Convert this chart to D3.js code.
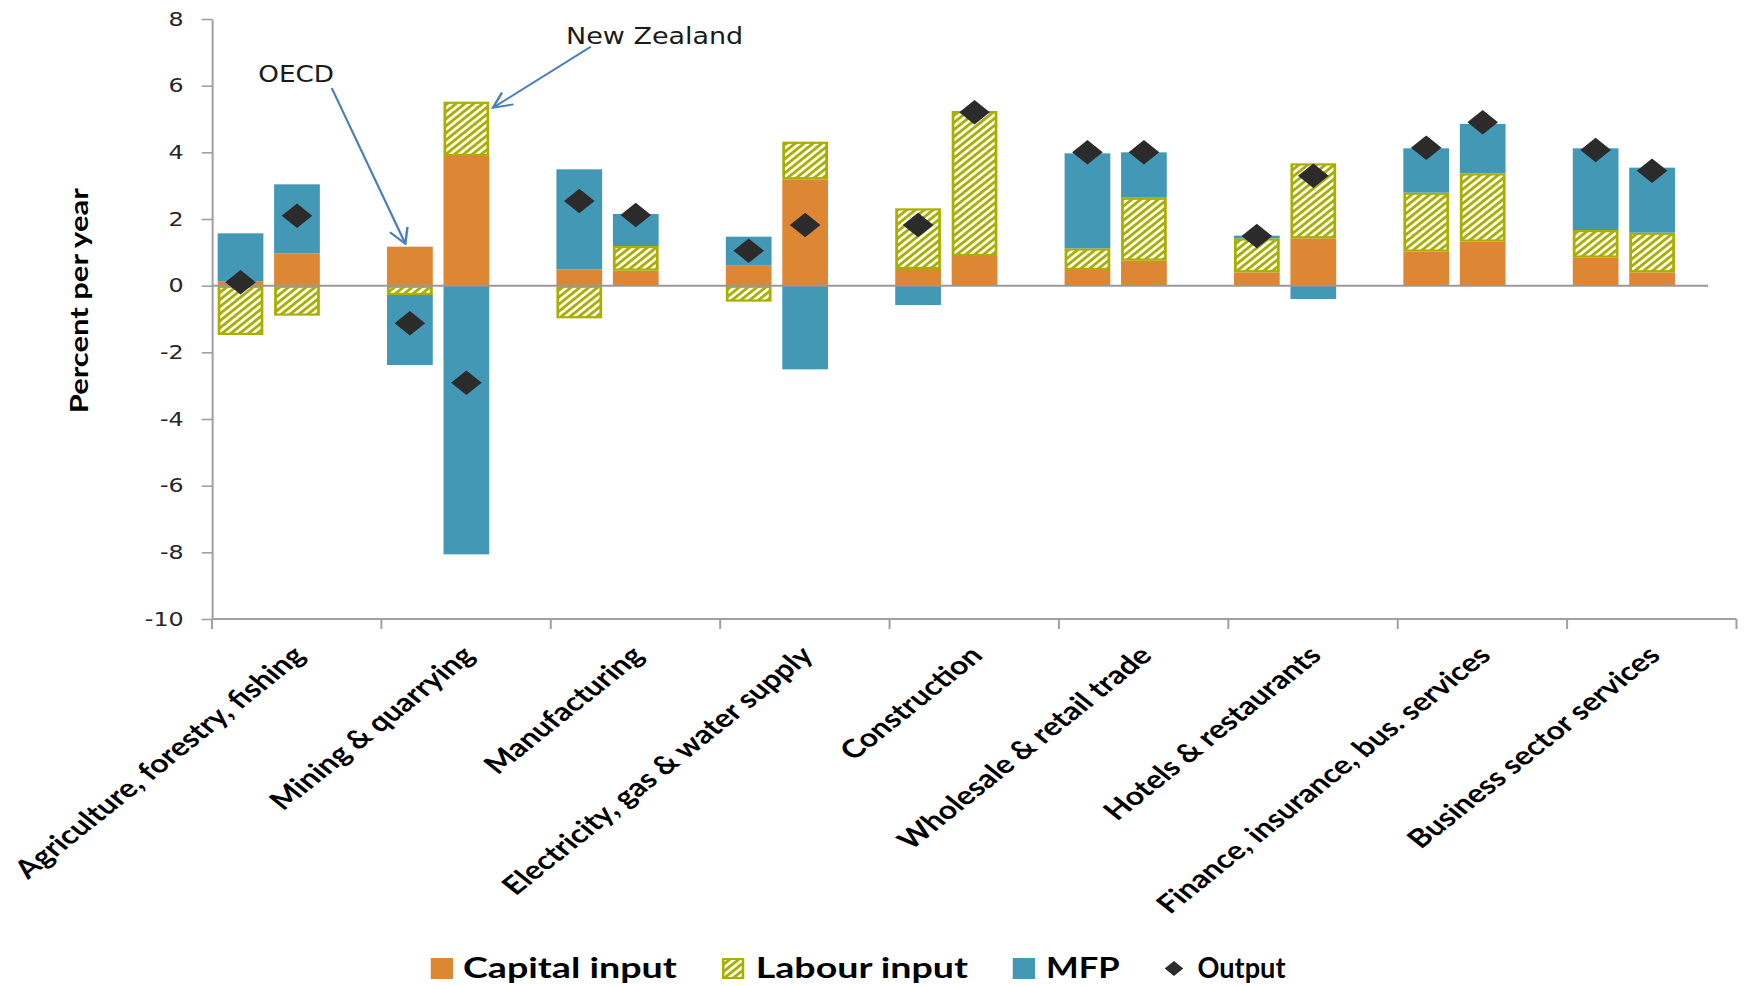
<!DOCTYPE html>
<html>
<head>
<meta charset="utf-8">
<script src="https://cdn.jsdelivr.net/npm/d3@7"></script>
<style>
  body { margin: 0; background: #fff; }
  svg { display: block; }
</style>
</head>
<body>
<svg id="chart" width="1745" height="986"></svg>
<script>
// Sectors on the category axis
const categories = [
  "Agriculture, forestry, fishing",
  "Mining & quarrying",
  "Manufacturing",
  "Electricity, gas & water supply",
  "Construction",
  "Wholesale & retail trade",
  "Hotels & restaurants",
  "Finance, insurance, bus. services",
  "Business sector services"
];
const countries = ["OECD", "New Zealand"];

// Growth contributions, percent per year (OECD bar first, New Zealand second)
const oecdCapital = [0.12, 1.17, 0.49, 0.60, 0.50, 0.47, 0.40, 1.02, 0.84];
const oecdLabour  = [-1.48, -0.28, -0.98, -0.48, 1.82, 0.65, 1.02, 1.77, 0.83];
const oecdMFP     = [1.45, -2.10, 3.00, 0.87, -0.58, 2.85, 0.08, 1.33, 2.45];
const oecdOutput  = [0.10, -1.13, 2.54, 1.05, 1.82, 4.00, 1.49, 4.14, 4.07];

const nzCapital = [0.97, 3.89, 0.45, 3.19, 0.89, 0.75, 1.42, 1.32, 0.40];
const nzLabour  = [-0.90, 1.63, 0.74, 1.13, 4.35, 1.89, 2.25, 2.05, 1.19];
const nzMFP     = [2.07, -8.06, 0.96, -2.51, 0.00, 1.36, -0.40, 1.48, 1.95];
const nzOutput  = [2.10, -2.91, 2.12, 1.82, 5.20, 4.00, 3.30, 4.90, 3.45];

const yTicks = [-10, -8, -6, -4, -2, 0, 2, 4, 6, 8];
const stackKeys = ["Capital input", "Labour input", "MFP"];
const legendLabels = ["Capital input", "Labour input", "MFP", "Output"];

// ---- layout ----
const SX = 1.25;                 // horizontal stretch of the drawing
const plotLeft = 212 / SX, plotRight = 1736.5 / SX;
const plotTop = 19, plotBottom = 619;
const zeroLineEnd = 1708 / SX;

const colors = {
  capital: "#DD8735",
  labour: "#A9AF00",
  mfp: "#4398B6",
  output: "#2B2B2B",
  axis: "#A0A0A0",
  arrow: "#4A7EBB"
};

// ---- rows for the stack ----
const byCountry = {
  "OECD": { cap: oecdCapital, lab: oecdLabour, mfp: oecdMFP, out: oecdOutput },
  "New Zealand": { cap: nzCapital, lab: nzLabour, mfp: nzMFP, out: nzOutput }
};
const rows = [];
categories.forEach((c, i) => {
  countries.forEach(k => {
    const s = byCountry[k];
    rows.push({
      category: c, country: k,
      "Capital input": s.cap[i], "Labour input": s.lab[i], "MFP": s.mfp[i],
      "Output": s.out[i]
    });
  });
});
const stacked = d3.stack().keys(stackKeys).offset(d3.stackOffsetDiverging)(rows);

// ---- svg ----
const svg = d3.select("#chart");
const defs = svg.append("defs");

const hatch = defs.append("pattern")
  .attr("id", "hatch")
  .attr("patternUnits", "userSpaceOnUse")
  .attr("width", 5).attr("height", 5)
  .attr("patternTransform", "rotate(45)");
hatch.append("rect").attr("width", 5).attr("height", 5).attr("fill", "#ffffff");
hatch.append("rect").attr("width", 2.6).attr("height", 5).attr("fill", colors.labour);

const marker = defs.append("marker")
  .attr("id", "arrowhead")
  .attr("viewBox", "0 0 12 12")
  .attr("refX", 11).attr("refY", 6)
  .attr("markerUnits", "userSpaceOnUse")
  .attr("markerWidth", 18).attr("markerHeight", 18)
  .attr("orient", "auto");
marker.append("path")
  .attr("d", "M1,1 L11,6 L1,11")
  .attr("fill", "none")
  .attr("stroke", colors.arrow)
  .attr("stroke-width", 1.3);

const root = svg.append("g").attr("transform", `scale(${SX},1)`);

const x = d3.scaleBand().domain(categories).range([plotLeft, plotRight]);
const xs = d3.scaleBand().domain(countries)
  .range([0, x.bandwidth() * 0.67])
  .paddingInner(0.19).paddingOuter(0.1);
const y = d3.scaleLinear().domain([-10, 8]).range([plotBottom, plotTop]);

// ---- y axis ----
const yAxis = root.append("g")
  .attr("transform", `translate(${plotLeft},0)`)
  .call(d3.axisLeft(y).tickValues(yTicks).tickSize(8.2).tickSizeOuter(0).tickPadding(14.5)
    .tickFormat(d => String(d)));
yAxis.select(".domain").attr("stroke", colors.axis).attr("stroke-width", 1.6);
yAxis.selectAll(".tick line").attr("stroke", colors.axis).attr("stroke-width", 1.6);
yAxis.selectAll(".tick text")
  .attr("fill", "#262626")
  .style("font-family", "'DejaVu Sans', Verdana, sans-serif")
  .style("font-size", "19px");

// ---- category axis along the bottom ----
const xAxisG = root.append("g");
xAxisG.append("line")
  .attr("x1", plotLeft).attr("x2", plotRight)
  .attr("y1", plotBottom).attr("y2", plotBottom)
  .attr("stroke", colors.axis).attr("stroke-width", 1.8);
const boundaries = categories.map(c => x(c)).concat([x(categories[categories.length - 1]) + x.bandwidth()]);
xAxisG.selectAll("line.tick")
  .data(boundaries)
  .join("line")
  .attr("class", "tick")
  .attr("x1", d => d).attr("x2", d => d)
  .attr("y1", plotBottom).attr("y2", plotBottom + 10)
  .attr("stroke", colors.axis).attr("stroke-width", 1.6);

xAxisG.selectAll("text.cat")
  .data(categories)
  .join("text")
  .attr("class", "cat")
  .attr("transform", d => `translate(${x(d) + x.bandwidth() / 2 + 8},${plotBottom + 38}) rotate(-45)`)
  .attr("text-anchor", "end")
  .attr("fill", "#000")
  .style("font-family", "Lato, 'Open Sans', sans-serif")
  .style("font-weight", "700")
  .style("font-size", "25.5px")
  .text(d => d);

// ---- stacked bars ----
const fills = { "Capital input": colors.capital, "Labour input": "url(#hatch)", "MFP": colors.mfp };
const barX = d => x(d.data.category) + xs(d.data.country);

stacked.forEach(layer => {
  const key = layer.key;
  const isLabour = key === "Labour input";
  const sw = 2.2;
  root.append("g")
    .selectAll("rect")
    .data(layer.filter(d => Math.abs(d[1] - d[0]) > 1e-9))
    .join("rect")
    .attr("x", d => barX(d) + (isLabour ? sw / 2 : 0))
    .attr("width", xs.bandwidth() - (isLabour ? sw : 0))
    .attr("y", d => y(Math.max(d[0], d[1])) + (isLabour ? sw / 2 : 0))
    .attr("height", d => Math.abs(y(d[0]) - y(d[1])) - (isLabour ? sw : 0))
    .attr("fill", fills[key])
    .attr("stroke", isLabour ? colors.labour : "none")
    .attr("stroke-width", isLabour ? sw : 0);
});

// ---- zero line ----
root.append("line")
  .attr("x1", plotLeft).attr("x2", zeroLineEnd)
  .attr("y1", y(0)).attr("y2", y(0))
  .attr("stroke", "#999").attr("stroke-width", 2);

// ---- output markers ----
const diamond = d3.symbol().type(d3.symbolSquare).size(300);
root.append("g")
  .selectAll("path")
  .data(rows)
  .join("path")
  .attr("d", diamond)
  .attr("transform", d => `translate(${x(d.category) + xs(d.country) + xs.bandwidth() / 2},${y(d.Output)}) rotate(45)`)
  .attr("fill", colors.output);

// ---- annotations ----
const ann = root.append("g");
const annFont = "'DejaVu Sans', Verdana, sans-serif";
ann.append("text")
  .attr("x", 206.6).attr("y", 82)
  .attr("textLength", 60.6).attr("lengthAdjust", "spacingAndGlyphs")
  .style("font-family", annFont).style("font-size", "23px")
  .attr("fill", "#1a1a1a")
  .text("OECD");
ann.append("text")
  .attr("x", 452.8).attr("y", 44)
  .attr("textLength", 141.8).attr("lengthAdjust", "spacingAndGlyphs")
  .style("font-family", annFont).style("font-size", "23px")
  .attr("fill", "#1a1a1a")
  .text("New Zealand");

// arrows point to the OECD and New Zealand mining bars
const miningOECD = rows.find(r => r.category === categories[1] && r.country === "OECD");
const miningNZ = rows.find(r => r.category === categories[1] && r.country === "New Zealand");
ann.append("line")
  .attr("x1", 265.4).attr("y1", 88)
  .attr("x2", x(miningOECD.category) + xs("OECD") + xs.bandwidth() * 0.4)
  .attr("y2", y(miningOECD["Capital input"]) - 3)
  .attr("stroke", colors.arrow).attr("stroke-width", 1.8)
  .attr("marker-end", "url(#arrowhead)");
ann.append("line")
  .attr("x1", 472.6).attr("y1", 46.7)
  .attr("x2", x(miningNZ.category) + xs("New Zealand") + xs.bandwidth() + 3)
  .attr("y2", y(miningNZ["Capital input"] + miningNZ["Labour input"]) + 6)
  .attr("stroke", colors.arrow).attr("stroke-width", 1.8)
  .attr("marker-end", "url(#arrowhead)");

// ---- legend ----
const legend = root.append("g");
const legendFont = "Lato, 'Open Sans', sans-serif";
const legendItems = [
  { label: legendLabels[0], sx: 344.6, tx: 370.4, tw: 171, kind: "rect", fill: colors.capital },
  { label: legendLabels[1], sx: 577.6, tx: 604.6, tw: 169.8, kind: "hatch" },
  { label: legendLabels[2], sx: 810.2, tx: 836.8, tw: 58.9, kind: "rect", fill: colors.mfp },
  { label: legendLabels[3], sx: 939.2, tx: 958, tw: 70.4, kind: "diamond" }
];
legendItems.forEach(it => {
  if (it.kind === "rect") {
    legend.append("rect").attr("x", it.sx).attr("y", 958).attr("width", 17.8).attr("height", 21)
      .attr("fill", it.fill);
  } else if (it.kind === "hatch") {
    legend.append("rect").attr("x", it.sx + 1).attr("y", 959).attr("width", 15.8).attr("height", 19)
      .attr("fill", "url(#hatch)").attr("stroke", colors.labour).attr("stroke-width", 2);
  } else {
    legend.append("path").attr("d", d3.symbol().type(d3.symbolSquare).size(110))
      .attr("transform", `translate(${it.sx},968.5) rotate(45)`)
      .attr("fill", colors.output);
  }
  legend.append("text")
    .attr("x", it.tx).attr("y", 978)
    .attr("textLength", it.tw).attr("lengthAdjust", "spacingAndGlyphs")
    .style("font-family", legendFont).style("font-weight", "700").style("font-size", "29px")
    .attr("fill", "#000")
    .text(it.label);
});

// ---- y axis title (drawn outside the stretched group) ----
svg.append("text")
  .attr("transform", "translate(88,300.8) rotate(-90)")
  .attr("text-anchor", "middle")
  .attr("textLength", 225).attr("lengthAdjust", "spacingAndGlyphs")
  .style("font-family", legendFont).style("font-weight", "700").style("font-size", "25px")
  .attr("fill", "#000")
  .text("Percent per year");
</script>
</body>
</html>
